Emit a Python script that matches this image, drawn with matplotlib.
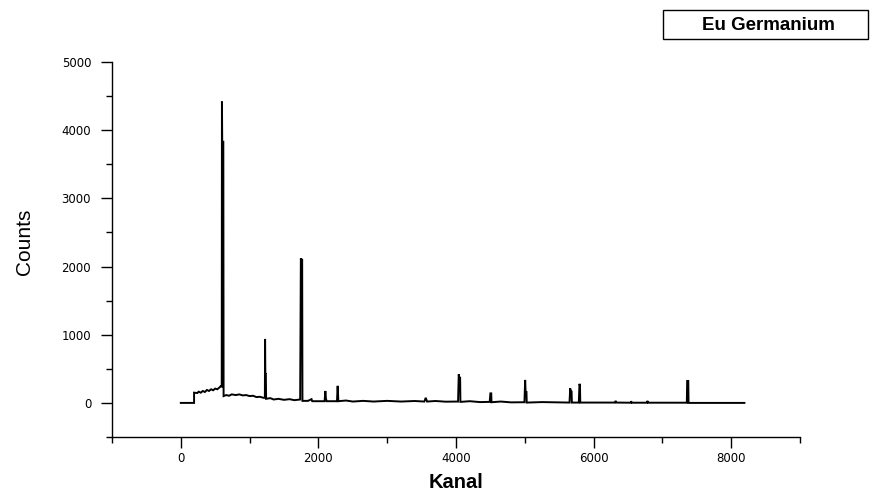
import matplotlib
matplotlib.use("Agg")
import matplotlib.pyplot as plt
from matplotlib.patches import Rectangle
from matplotlib.ticker import MultipleLocator
from matplotlib import font_manager

# Spectrum vertices: (Kanal, Counts)
channels = [
    0, 193, 193, 240, 260, 290, 320, 350, 380, 410, 440, 470, 500, 530, 560, 580,
    595, 598, 602, 618, 622,
    660, 700, 740, 800, 850, 900, 950, 1000, 1050, 1100, 1150, 1200,
    1222, 1225, 1229, 1236, 1240,
    1300, 1350, 1420, 1500, 1580, 1650, 1735,
    1745, 1750, 1764, 1768,
    1850, 1900, 1910, 2090, 2101, 2110, 2120, 2270, 2280, 2290,
    2400, 2500, 2650, 2800, 3000, 3200, 3400, 3540, 3560, 3580,
    3700, 3850, 4030, 4040, 4046, 4060, 4064,
    4200, 4350, 4490, 4500, 4512, 4516,
    4650, 4800, 4995, 5005, 5012, 5024, 5028,
    5250, 5650, 5660, 5668, 5680, 5684,
    5785, 5795, 5802, 5806,
    6310, 6320, 6330, 6540, 6546, 6555, 6775, 6783, 6790,
    7355, 7360, 7376, 7380, 8192,
]
counts = [
    0, 0, 150, 145, 165, 150, 175, 160, 190, 175, 200, 185, 210, 200, 225, 245,
    240, 4420, 3830, 3830, 100,
    115, 105, 125, 115, 125, 110, 115, 100, 105, 85, 90, 75,
    75, 938, 425, 425, 60,
    70, 50, 60, 45, 55, 40, 50,
    2121, 2100, 2100, 30,
    30, 55, 25, 25, 175, 60, 25, 25, 250, 25,
    35, 20, 30, 20, 30, 20, 28, 20, 75, 20,
    28, 18, 20, 420, 370, 370, 15,
    25, 12, 15, 140, 140, 10,
    20, 8, 10, 337, 160, 160, 5,
    12, 5, 215, 165, 165, 5,
    5, 280, 250, 5,
    5, 30, 5, 3, 25, 3, 3, 30, 3,
    3, 322, 322, 0, 0,
]

x_ticks = [0, 2000, 4000, 6000, 8000]
y_ticks = [0, 1000, 2000, 3000, 4000, 5000]

installed = {f.name for f in font_manager.fontManager.ttflist}
NARROW = "Liberation Sans Narrow" if "Liberation Sans Narrow" in installed else "Liberation Sans"

plt.rcParams["font.family"] = ["Liberation Sans", "DejaVu Sans"]

fig = plt.figure(figsize=(8.73, 4.94), dpi=100)
ax = fig.add_axes([112 / 873, 1 - 437 / 494, (800 - 112) / 873, (437 - 62) / 494])

ax.plot(channels, counts, color="black", lw=1.4, solid_joinstyle="miter")

ax.set_xlim(-1000, 9000)
ax.set_ylim(-500, 5000)
ax.set_xticks(x_ticks)
ax.set_yticks(y_ticks)
ax.xaxis.set_minor_locator(MultipleLocator(1000))
ax.yaxis.set_minor_locator(MultipleLocator(500))

for side in ("top", "right"):
    ax.spines[side].set_visible(False)
for side in ("left", "bottom"):
    ax.spines[side].set_linewidth(1.0)

ax.tick_params(which="major", direction="out", length=8, width=1.0)
ax.tick_params(which="minor", direction="out", length=4, width=1.0)
ax.tick_params(axis="x", which="major", pad=3)
ax.tick_params(axis="y", which="major", pad=7)
for lab in ax.get_xticklabels() + ax.get_yticklabels():
    lab.set_family(["DejaVu Sans"])
    lab.set_fontsize(8.5)

ax.set_xlabel("Kanal", fontsize=14.5, fontweight="bold")
ax.xaxis.set_label_coords(0.5, -0.095)
ax.set_ylabel("Counts", fontsize=15, family=[NARROW, "DejaVu Sans"])
ax.yaxis.set_label_coords(-0.114, 0.52)

fig.add_artist(Rectangle((663 / 873, 1 - 39 / 494), 205 / 873, 29 / 494,
                         transform=fig.transFigure, fill=False, edgecolor="black", lw=1.0))
fig.text((685 + 852) / 2 / 873, 1 - 25 / 494, "Eu Germanium",
         ha="center", va="center", fontsize=13.5, fontweight="bold")

fig.savefig("out.png", dpi=100)
